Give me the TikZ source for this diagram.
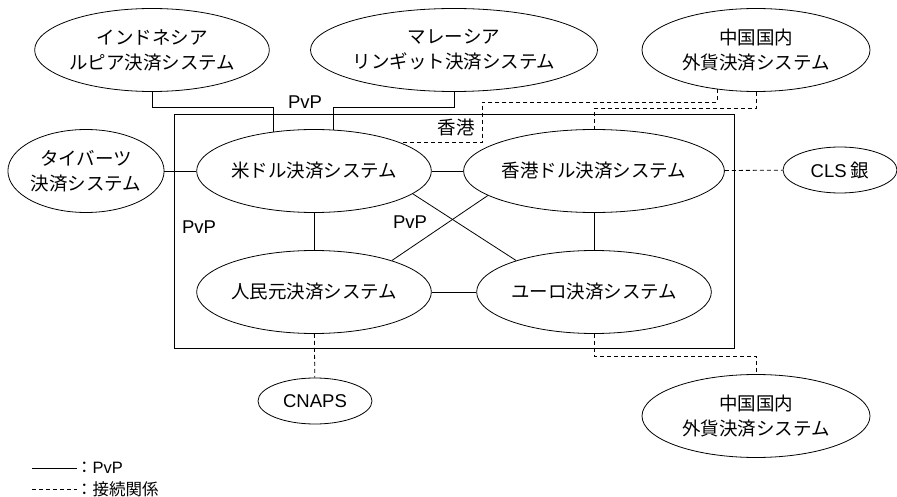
\documentclass[tikz,border=0pt]{standalone}
\usepackage{fontspec}
\setmainfont{Liberation Sans}
\newfontfamily\jp{Noto Sans CJK JP}
\usetikzlibrary{shapes.geometric}
\tikzset{
  sys/.style={ellipse,draw,line width=0.8pt,inner sep=0pt,align=center,minimum width=228pt,minimum height=83pt,font=\fontsize{18.5}{25}\selectfont\jp},
  small/.style={sys,minimum width=114pt,minimum height=46pt},
  pvpline/.style={line width=0.8pt},
  conn/.style={line width=0.8pt,dash pattern=on 4pt off 3pt},
  lbl/.style={inner sep=0pt,font=\fontsize{18.5}{25}\selectfont},
  leg/.style={inner sep=0pt,anchor=west,font=\fontsize{16.5}{20}\selectfont}
}
\begin{document}
\begin{tikzpicture}[x=1pt,y=-1pt]
\useasboundingbox (0,0) rectangle (897,497);
\draw[line width=0.8pt] (174,114) rectangle (734,348);
\node[sys] (indo) at (152,50) {インドネシア\\ルピア決済システム};
\node[sys] (malay) at (454,50) {マレーシア\\リンギット決済システム};
\node[sys] (china1) at (756,50) {中国国内\\外貨決済システム};
\node[sys,minimum width=152pt] (taiwan) at (86,171) {タイバーツ\\決済システム};
\node[sys] (usd) at (314,171) {米ドル決済システム};
\node[sys] (hkd) at (594,171) {香港ドル決済システム};
\node[small] (cls) at (840,170) {{\rmfamily CLS} 銀};
\node[small] (cnaps) at (315,401) {\rmfamily CNAPS};
\node[sys] (rmb) at (314,292) {人民元決済システム};
\node[sys] (eur) at (594,292) {ユーロ決済システム};
\node[sys] (china2) at (756,416) {中国国内\\外貨決済システム};
\node[lbl] (pvp1) at (305,102) {PvP};
\node[lbl] (pvp2) at (199,227) {PvP};
\node[lbl] (pvp3) at (410,222) {PvP};
\node[lbl] (hk) at (456,127) {\jp 香港};
% PvP lines
\draw[pvpline] (indo.south) -- ++(0,16) -| (usd.136.7);
\draw[pvpline] (malay.south) -- ++(0,16) -| (usd.65);
\draw[pvpline] (taiwan) -- (usd);
\draw[pvpline] (usd) -- (hkd);
\draw[pvpline] (usd) -- (rmb);
\draw[pvpline] (hkd) -- (eur);
\draw[pvpline] (rmb) -- (eur);
\draw[pvpline] (usd.-13.2) -- (eur.158);
\draw[pvpline] (rmb.22.3) -- (hkd.193);
% connection lines
\draw[conn] (china1.-134.2) |- (482,102) |- (usd.18.4);
\draw[conn] (china1.south) -- ++(0,17) -| (hkd.north);
\draw[conn] (hkd) -- (cls);
\draw[conn] (rmb) -- (cnaps);
\draw[conn] (eur.south) -- ++(0,22) -| (china2.north);
% legend
\node[leg] (leg1) at (76,468) {{\jp ：}PvP};
\node[leg] (leg2) at (76,489) {\jp ：接続関係};
\coordinate (l1) at (32,468);
\coordinate (l2) at (32,489);
\draw[pvpline] (l1) -- (77,468);
\draw[conn] (l2) -- (77,489);
\end{tikzpicture}
\end{document}
